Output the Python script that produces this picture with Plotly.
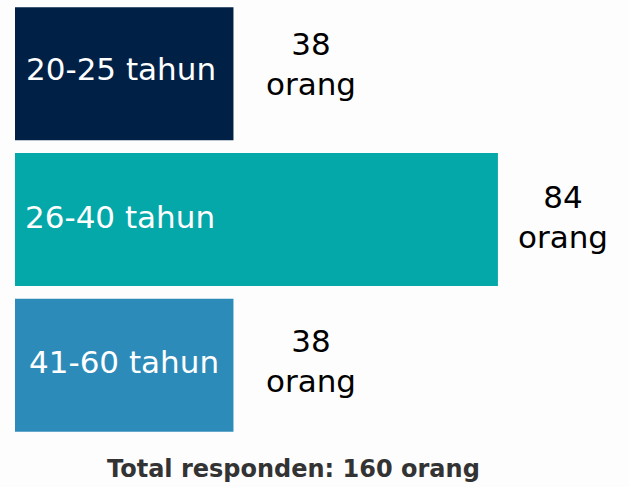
import plotly.graph_objects as go

categories = ["20-25 tahun", "26-40 tahun", "41-60 tahun"]
values = [38, 84, 38]
value_labels = ["38<br>orang", "84<br>orang", "38<br>orang"]
colors = ["#012046", "#04a8a9", "#2d8bba"]
total_text = "Total responden: 160 orang"

FONT = "DejaVu Sans"

fig = go.Figure()
fig.add_trace(go.Bar(
    x=values, y=categories, orientation="h",
    marker=dict(color=colors, line=dict(width=0)),
    hoverinfo="skip", showlegend=False,
))

label_shifts = [9, 8, 12]
label_yshifts = [5, 3, 3]
value_shifts = [31, 18, 31]
value_yshifts = [10, 3, 4]
for cat, v, vl, ls, ly, vs, vy in zip(categories, values, value_labels, label_shifts,
                                      label_yshifts, value_shifts, value_yshifts):
    fig.add_annotation(x=0, y=cat, text=cat, showarrow=False, xanchor="left",
                       yanchor="middle", xshift=ls, yshift=ly,
                       font=dict(family=FONT, size=31, color="white"))
    fig.add_annotation(x=v, y=cat, text=vl, showarrow=False, xanchor="left",
                       yanchor="middle", xshift=vs, yshift=vy, align="center",
                       font=dict(family=FONT, size=31, color="#000000"))

fig.add_annotation(x=0.453, y=0, xref="paper", yref="paper", text="<b>" + total_text + "</b>",
                   showarrow=False, xanchor="center", yanchor="middle", yshift=-31,
                   font=dict(family=FONT, size=24, color="#333333"))

fig.update_layout(
    width=629, height=487,
    margin=dict(l=15, r=0, t=1, b=49),
    paper_bgcolor="#fdfdfd", plot_bgcolor="#fdfdfd",
    bargap=0.087,
    xaxis=dict(range=[0, 106.8], visible=False, fixedrange=True),
    yaxis=dict(autorange="reversed", visible=False, fixedrange=True),
)
fig.write_html("out.html", config={"displayModeBar": False},
               post_script="document.body.style.margin='0';document.body.style.background='#fdfdfd';")
